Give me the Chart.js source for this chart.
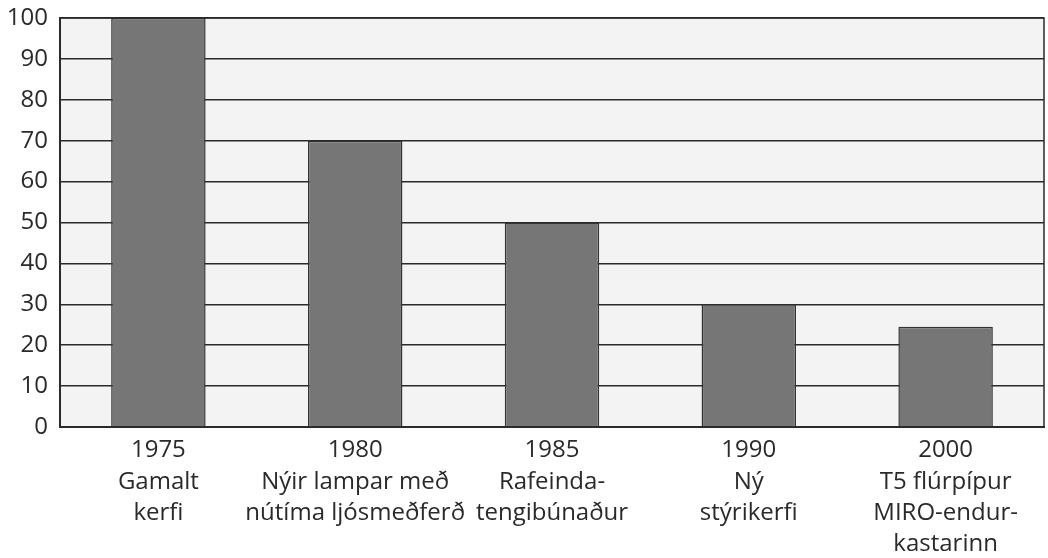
<!DOCTYPE html>
<html lang="is">
<head>
    <meta charset="UTF-8">
    <title>Orkunotkun lýsingar</title>
    <script src="https://cdn.jsdelivr.net/npm/chart.js"></script>
    <style>
        body { margin: 0; padding: 0; background: #fff; }
        #wrap { width: 1048px; height: 558px; }
    </style>
</head>
<body>
<div id="wrap"><canvas id="chart" width="1048" height="558"></canvas></div>
<script>
    // Categories: year plus a short description, one array entry per line
    const years = ['1975', '1980', '1985', '1990', '2000'];
    const descriptions = [
        ['Gamalt', 'kerfi'],
        ['Nýir lampar með', 'nútíma ljósmeðferð'],
        ['Rafeinda-', 'tengibúnaður'],
        ['Ný', 'stýrikerfi'],
        ['T5 flúrpípur', 'MIRO-endur-', 'kastarinn']
    ];
    const values = [100, 70, 50, 30, 24.5];
    const yTicks = [0, 10, 20, 30, 40, 50, 60, 70, 80, 90, 100];

    const labels = years.map((y, i) => [y].concat(descriptions[i]));

    // Light plot background plus the top and right frame lines
    const plotFrame = {
        id: 'plotFrame',
        beforeDraw(chart) {
            const { ctx, chartArea: a } = chart;
            ctx.save();
            ctx.fillStyle = '#f3f3f3';
            ctx.fillRect(a.left, a.top, a.right - a.left, a.bottom - a.top);
            ctx.restore();
        },
        afterDraw(chart) {
            const { ctx, chartArea: a } = chart;
            ctx.save();
            ctx.strokeStyle = '#2a2a2a';
            ctx.lineWidth = 1.5;
            ctx.beginPath();
            ctx.moveTo(a.left, a.top);
            ctx.lineTo(a.right, a.top);
            ctx.lineTo(a.right, a.bottom);
            ctx.stroke();
            ctx.restore();
        }
    };

    const font = { family: '"Open Sans", "DejaVu Sans", sans-serif', size: 24 };

    new Chart(document.getElementById('chart'), {
        type: 'bar',
        data: {
            labels: labels,
            datasets: [{
                data: values,
                backgroundColor: '#767676',
                borderColor: '#333',
                borderWidth: 1.5,
                categoryPercentage: 1,
                barPercentage: 0.48
            }]
        },
        options: {
            responsive: false,
            animation: false,
            layout: { padding: { top: 18, right: 4, left: 0, bottom: 0 } },
            plugins: { legend: { display: false }, tooltip: { enabled: false } },
            scales: {
                x: {
                    grid: { display: false, drawTicks: false },
                    border: { color: '#2a2a2a', width: 2 },
                    ticks: { color: '#2a2a2a', font: Object.assign({ lineHeight: 1.3 }, font), padding: 8, maxRotation: 0, autoSkip: false },
                    afterFit(scale) { scale.height = 131; scale.paddingLeft = 0; scale.paddingRight = 0; }
                },
                y: {
                    min: 0,
                    max: 100,
                    afterBuildTicks(scale) { scale.ticks = yTicks.map(v => ({ value: v })); },
                    grid: { color: '#2a2a2a', lineWidth: 1.5, drawTicks: false },
                    border: { color: '#2a2a2a', width: 2 },
                    ticks: { color: '#2a2a2a', font: font, padding: 12 },
                    afterFit(scale) { scale.width = 60; scale.paddingTop = 0; scale.paddingBottom = 0; }
                }
            }
        },
        plugins: [plotFrame]
    });
</script>
</body>
</html>
